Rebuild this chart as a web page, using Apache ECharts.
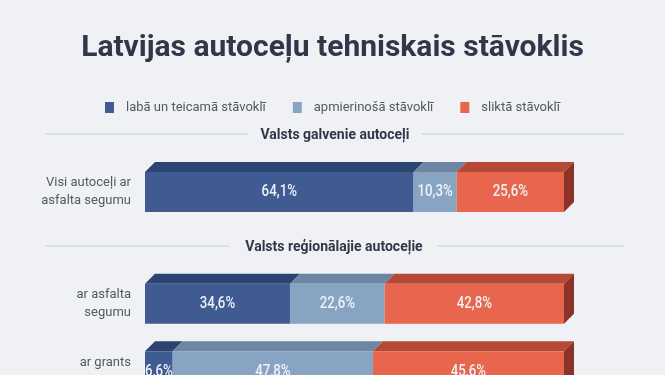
<!DOCTYPE html>
<html>
<head>
<meta charset="utf-8">
<script src="https://cdn.jsdelivr.net/npm/echarts@6/dist/echarts.min.js"></script>
<style>html,body{margin:0;padding:0;background:#eff1f4;width:665px;height:375px;overflow:hidden;}#c{width:665px;height:420px;}</style>
</head>
<body>
<div id="c"></div>
<script>
const titleText = 'Latvijas autoceļu tehniskais stāvoklis';
const sectionMain = 'Valsts galvenie autoceļi';
const sectionRegional = 'Valsts reģionālajie autoceļie';
const seriesNames = ['labā un teicamā stāvoklī', 'apmierinošā stāvoklī', 'sliktā stāvoklī'];
const categoriesMain = ['Visi autoceļi ar\nasfalta segumu'];
const categoriesRegional = ['ar asfalta\nsegumu', 'ar grants\nsegumu'];
const goodMain = [64.1];
const okMain = [10.3];
const badMain = [25.6];
const goodRegional = [34.6, 6.6];
const okRegional = [22.6, 47.8];
const badRegional = [42.8, 45.6];

const frontColors = ['#3f5b92', '#88a4c3', '#e8664e'];
const topColors = ['#2d4470', '#6d86a4', '#b54936'];
const sideColors = ['#22355a', '#58708c', '#8a3326'];

function stackData(groups) {
  const out = groups.map(() => []);
  const n = groups[0].length;
  for (let c = 0; c < n; c++) {
    let acc = 0;
    groups.forEach((g, s) => {
      out[s].push([acc, acc + g[c], c, g[c]]);
      acc += g[c];
    });
  }
  return out;
}

const mainData = stackData([goodMain, okMain, badMain]);
const regData = stackData([goodRegional, okRegional, badRegional]);

const D = 10, H = 40;
function makeRender(si) {
  return function (params, api) {
    const start = api.value(0), end = api.value(1), cat = api.value(2), val = api.value(3);
    const p0 = api.coord([start, cat]);
    const p1 = api.coord([end, cat]);
    const x0 = p0[0], x1 = p1[0], y = p0[1] - H / 2;
    const children = [
      { type: 'polygon', shape: { points: [[x0, y], [x0 + D, y - D], [x1 + D, y - D], [x1, y]] }, style: { fill: topColors[si] } },
      { type: 'rect', shape: { x: x0, y: y, width: x1 - x0, height: H }, style: { fill: frontColors[si] } }
    ];
    if (end >= 99.95) {
      children.push({ type: 'polygon', shape: { points: [[x1, y], [x1 + D, y - D], [x1 + D, y + H - D], [x1, y + H]] }, style: { fill: sideColors[si] } });
    }
    children.push({
      type: 'text',
      x: (x0 + x1) / 2, y: y + H / 2,
      scaleX: 0.78,
      style: {
        x: 0, y: 0,
        text: val.toFixed(1).replace('.', ',') + '%',
        align: 'center', verticalAlign: 'middle',
        fill: '#eef1f6', fontSize: 17, fontWeight: 500,
        fontFamily: 'Roboto, sans-serif'
      }
    });
    return { type: 'group', children: children };
  };
}

const series = [];
[mainData, regData].forEach((set, gi) => {
  set.forEach((data, si) => {
    series.push({
      type: 'custom',
      name: seriesNames[si],
      xAxisIndex: gi, yAxisIndex: gi,
      itemStyle: { color: frontColors[si] },
      encode: { x: [0, 1], y: 2 },
      renderItem: makeRender(si),
      data: data,
      clip: false
    });
  });
});

const axisLabelStyle = { color: '#555a62', fontSize: 13, lineHeight: 18, margin: 14, align: 'right', fontFamily: 'Roboto, sans-serif' };

const chart = echarts.init(document.getElementById('c'));
chart.setOption({
  backgroundColor: '#eff1f4',
  animation: false,
  title: {
    text: titleText, left: 'center', top: 28,
    textStyle: { fontSize: 30, fontWeight: 'bold', color: '#35354a', fontFamily: 'Roboto, sans-serif' }
  },
  legend: {
    data: seriesNames, top: 96, left: 'center', icon: 'rect', itemWidth: 9, itemHeight: 11, itemGap: 27,
    textStyle: { color: '#555a62', fontSize: 13, padding: [0, 0, 0, 7], fontFamily: 'Roboto, sans-serif' }
  },
  grid: [
    { left: 145, right: 101, top: 162, height: 60 },
    { left: 145, right: 101, top: 270, height: 135 }
  ],
  xAxis: [
    { gridIndex: 0, type: 'value', min: 0, max: 100, show: false },
    { gridIndex: 1, type: 'value', min: 0, max: 100, show: false }
  ],
  yAxis: [
    { gridIndex: 0, type: 'category', data: categoriesMain, inverse: true, axisLine: { show: false }, axisTick: { show: false }, axisLabel: axisLabelStyle },
    { gridIndex: 1, type: 'category', data: categoriesRegional, inverse: true, axisLine: { show: false }, axisTick: { show: false }, axisLabel: axisLabelStyle }
  ],
  graphic: [
    { type: 'line', shape: { x1: 45, y1: 134, x2: 248, y2: 134 }, style: { stroke: '#c9cdd3', lineWidth: 1 } },
    { type: 'line', shape: { x1: 422, y1: 134, x2: 624, y2: 134 }, style: { stroke: '#c9cdd3', lineWidth: 1 } },
    { type: 'text', x: 335, y: 135, style: { text: sectionMain, align: 'center', verticalAlign: 'middle', fontSize: 14, fontWeight: 'bold', fill: '#35354a', fontFamily: 'Roboto, sans-serif' } },
    { type: 'line', shape: { x1: 45, y1: 246, x2: 229, y2: 246 }, style: { stroke: '#c9cdd3', lineWidth: 1 } },
    { type: 'line', shape: { x1: 437, y1: 246, x2: 624, y2: 246 }, style: { stroke: '#c9cdd3', lineWidth: 1 } },
    { type: 'text', x: 334, y: 247, style: { text: sectionRegional, align: 'center', verticalAlign: 'middle', fontSize: 14, fontWeight: 'bold', fill: '#35354a', fontFamily: 'Roboto, sans-serif' } }
  ],
  series: series
});
</script>
</body>
</html>
